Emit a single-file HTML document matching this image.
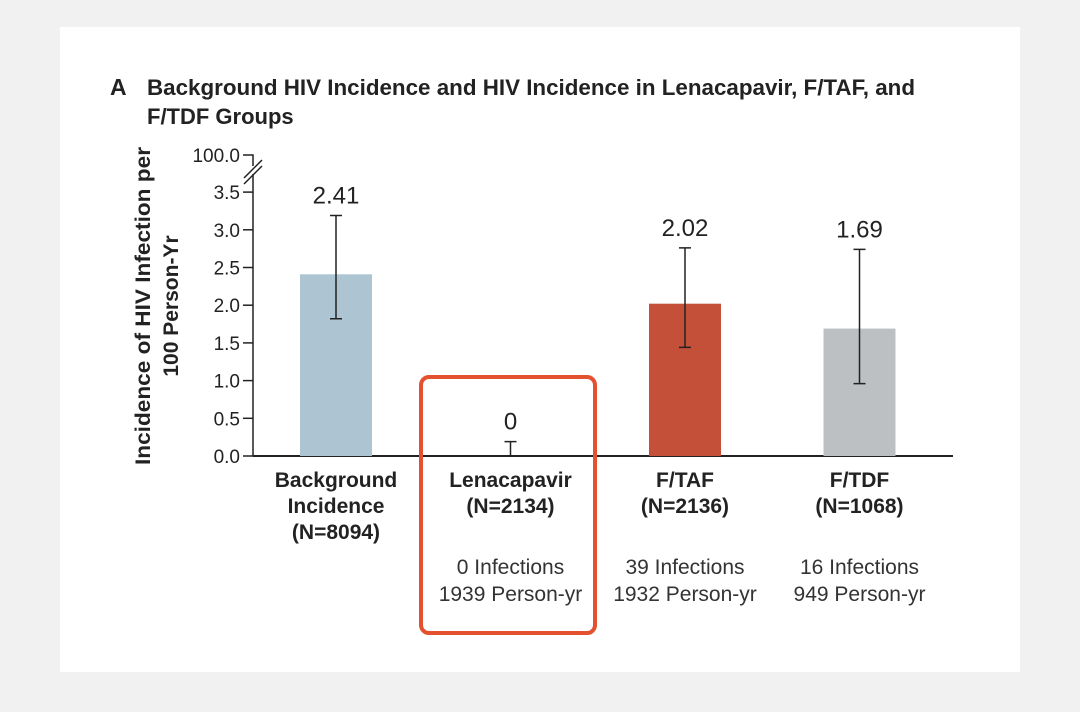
<!DOCTYPE html>
<html><head><meta charset="utf-8"><style>
body{margin:0;background:#f1f1f1;width:1080px;height:712px;overflow:hidden;font-family:"Liberation Sans",sans-serif}
.card{position:absolute;left:60px;top:27px;width:960px;height:645px;background:#fff}
</style></head><body>
<div class="card"></div>
<svg width="1080" height="712" style="position:absolute;left:0;top:0" font-family="Liberation Sans, sans-serif">
<text x="110" y="95" font-size="23" font-weight="bold" fill="#222">A</text>
<text x="147" y="95" font-size="22" font-weight="bold" fill="#222" textLength="768" lengthAdjust="spacingAndGlyphs">Background HIV Incidence and HIV Incidence in Lenacapavir, F/TAF, and</text>
<text x="147" y="124" font-size="22" font-weight="bold" fill="#222">F/TDF Groups</text>
<text x="0" y="0" font-size="21" font-weight="bold" fill="#222" text-anchor="middle" transform="translate(150,306) rotate(-90)" textLength="318" lengthAdjust="spacingAndGlyphs">Incidence of HIV Infection per</text>
<text x="0" y="0" font-size="21" font-weight="bold" fill="#222" text-anchor="middle" transform="translate(178,306) rotate(-90)">100 Person-Yr</text>
<g id="chart"></g>
<rect x="421" y="377" width="174" height="256" rx="8" fill="none" stroke="#e4512f" stroke-width="4"/>
</svg>
<script>
const categories=["Background","Lenacapavir","F/TAF","F/TDF"];
const catLine1=["Background","Lenacapavir","F/TAF","F/TDF"];
const catLine2=["Incidence","(N=2134)","(N=2136)","(N=1068)"];
const catLine3=["(N=8094)","","",""];
const values=[2.41,0,2.02,1.69];
const valueLabels=["2.41","0","2.02","1.69"];
const errLow=[1.82,0,1.44,0.96];
const errHigh=[3.19,0.19,2.76,2.74];
const infections=["","0 Infections","39 Infections","16 Infections"];
const personYears=["","1939 Person-yr","1932 Person-yr","949 Person-yr"];
const yTicks=[0,0.5,1.0,1.5,2.0,2.5,3.0,3.5];
const colors=["#adc5d3","#c5503a","#c5503a","#bdc0c3"];
const NS="http://www.w3.org/2000/svg";
const g=document.getElementById('chart');
const y=v=>456-v*75.4;
const x=i=>336+i*174.5;
function el(t,a,txt){const e=document.createElementNS(NS,t);for(const k in a)e.setAttribute(k,a[k]);if(txt!==undefined)e.textContent=txt;g.appendChild(e);return e;}
let ax=el('line',{x1:253,y1:456,x2:953,y2:456,stroke:'#222','stroke-width':2});


let ay=el('path',{d:'M253,456 V174 M253,166 V155 H243',stroke:'#222','stroke-width':1.5,fill:'none'});


let br=el('path',{d:'M244,178 L262,160 M244,184 L262,166',stroke:'#222','stroke-width':1.5,fill:'none'});


let t100=el('text',{x:240,y:162,'font-size':19,'text-anchor':'end',fill:'#222'},'100.0');


yTicks.forEach(v=>{
 let tk=el('line',{x1:243,x2:253,y1:y(v),y2:y(v),stroke:'#222','stroke-width':1.5});
 
 
 let tl=el('text',{x:240,y:y(v)+7,'font-size':19,'text-anchor':'end',fill:'#222'},v.toFixed(1));
 
 
});
categories.forEach((c,i)=>{
 const cx=x(i);
 if(values[i]>0){let b=el('rect',{x:cx-36,y:y(values[i]),width:72,height:456-y(values[i]),fill:colors[i]});
 
 }
 let e=el('path',{d:`M${cx},${y(errLow[i])} V${y(errHigh[i])} M${cx-6},${y(errHigh[i])} H${cx+6}`+(errLow[i]>0?` M${cx-6},${y(errLow[i])} H${cx+6}`:''),stroke:'#222','stroke-width':1.5,fill:'none'});
 
 
 let vl=el('text',{x:cx,y:y(errHigh[i])-12,'font-size':24,'text-anchor':'middle',fill:'#222'},valueLabels[i]);
 
 
 [catLine1[i],catLine2[i],catLine3[i]].forEach((s,k)=>{if(!s)return;
  let t=el('text',{x:cx,y:487+k*26,'font-size':21,'font-weight':'bold','text-anchor':'middle',fill:'#222'},s);
  
  });
 [infections[i],personYears[i]].forEach((s,k)=>{if(!s)return;
  let t=el('text',{x:cx,y:574+k*27,'font-size':21,'text-anchor':'middle',fill:'#333'},s);
  
  });
});
</script>
</body></html>
